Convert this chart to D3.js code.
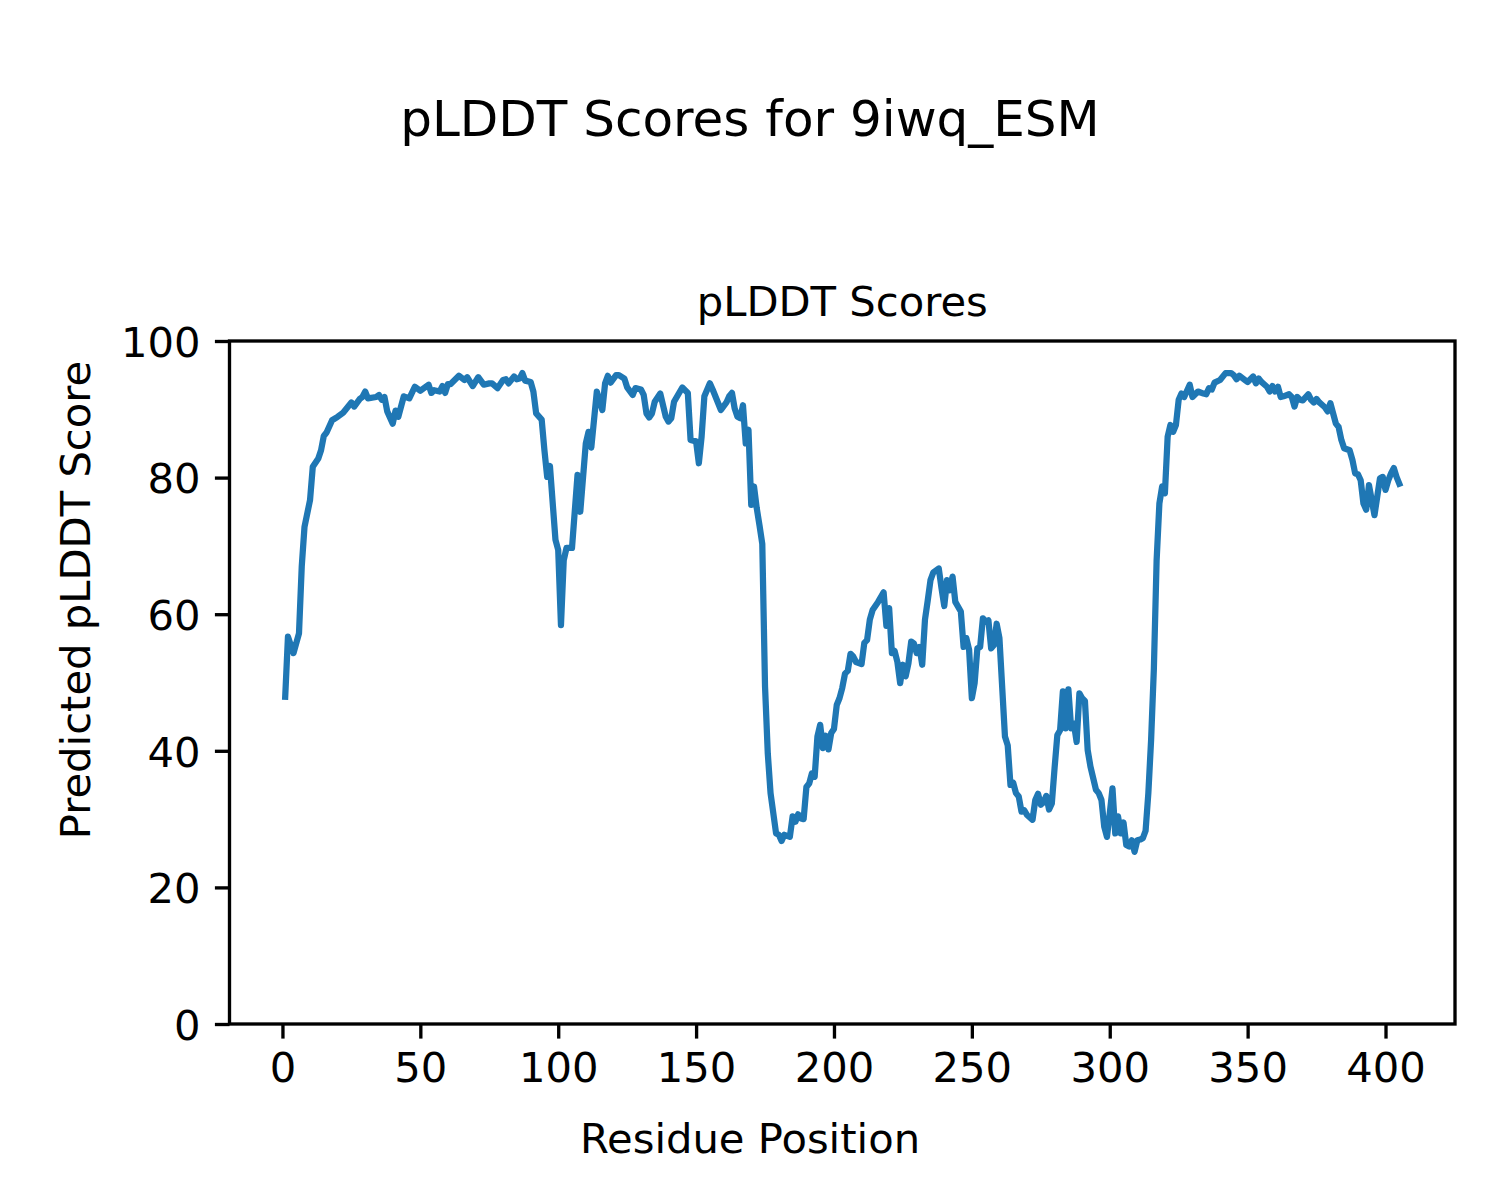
<!DOCTYPE html>
<html>
<head>
<meta charset="utf-8">
<script src="https://cdn.jsdelivr.net/npm/d3@7"></script>
<style>
  html, body { margin: 0; padding: 0; background: #ffffff; }
  svg { display: block; }
  text { font-family: "DejaVu Sans", sans-serif; fill: #000; }
</style>
</head>
<body>
<script>
// ---- data ----
const residues = [1,2,4,6,7,8,10,11,13,14,15,16,18,20,22,25,26,28,29,30,31,34,35,36,37,38,40,41,42,44,46,48,50,53,54,55,57,58,59,60,61,64,66,67,69,71,73,75,76,78,80,81,82,84,85,86,87,88,90,91,92,94,95,96,97,99,100,101,102,103,105,107,108,110,111,112,114,116,117,118,119,121,122,124,125,127,128,130,131,132,133,134,135,137,139,140,141,142,145,147,148,150,151,152,153,155,156,159,161,162,163,164,165,166,167,168,169,170,171,172,173,174,175,176,177,179,180,181,182,184,185,186,187,188,189,190,191,192,193,194,195,196,197,198,199,200,201,202,203,204,205,206,207,208,210,211,212,213,214,216,218,219,220,221,222,223,224,225,226,227,228,229,230,231,232,233,234,235,236,238,239,240,241,242,243,244,246,247,248,249,250,251,252,253,254,255,256,257,258,259,260,262,263,264,265,266,267,268,269,270,272,273,274,275,276,277,278,279,280,281,282,283,284,285,286,287,288,289,290,291,292,293,295,296,297,298,299,300,301,302,303,304,305,306,307,308,309,310,311,312,313,314,315,316,317,318,319,320,321,322,323,324,325,326,327,329,330,332,334,335,336,337,338,340,342,344,345,346,347,349,350,352,353,354,355,357,358,359,360,361,362,363,365,366,367,368,369,370,372,373,374,375,376,378,379,380,381,382,383,384,385,387,388,389,390,391,392,393,394,395,396,397,398,399,400,401,402,403,404,405];
const scores = [47.9,56.7,54.3,57.2,67.0,72.8,76.7,81.6,82.8,84.0,86.1,86.6,88.4,88.9,89.5,91.0,90.4,91.5,91.8,92.6,91.6,91.8,92.1,91.4,91.8,89.7,87.9,89.8,88.9,91.9,91.6,93.3,92.7,93.6,92.4,92.8,92.6,93.4,92.4,93.7,93.7,94.9,94.3,94.7,93.4,94.7,93.6,93.8,93.8,93.1,94.3,94.4,93.8,94.8,94.4,94.5,95.3,94.2,94.0,92.6,89.4,88.5,84.0,80.1,81.7,70.9,69.4,58.4,67.9,69.7,69.7,80.4,75.0,85.0,86.7,84.4,92.6,89.9,93.8,94.9,93.9,95.0,95.0,94.5,93.2,92.1,93.1,92.9,92.1,89.4,88.8,89.4,91.1,92.3,88.9,88.2,88.7,91.1,93.2,92.4,85.5,85.3,82.1,86.0,91.9,93.8,92.9,89.9,91.0,91.9,92.4,90.1,88.9,88.7,90.6,85.0,87.0,76.0,78.7,75.5,73.0,70.3,49.4,39.6,33.8,27.9,27.7,26.8,27.7,27.4,30.4,29.6,30.7,30.1,30.0,34.7,35.2,36.7,36.2,42.1,43.8,40.4,42.2,40.2,42.6,43.2,46.7,47.7,49.2,51.3,51.7,54.2,53.8,53.0,52.7,55.8,56.2,59.2,60.6,61.8,63.2,58.3,60.9,54.3,54.6,53.0,49.9,52.6,50.9,52.8,56.0,55.7,54.3,55.2,52.6,59.2,62.0,65.0,66.1,66.7,63.8,61.2,65.0,63.5,65.5,61.8,60.4,55.2,56.5,54.8,47.7,49.9,55.0,55.2,59.4,58.9,59.1,55.0,55.5,58.6,56.5,42.1,40.8,35.0,35.3,33.8,33.3,31.1,31.3,30.6,29.9,32.8,33.7,32.1,32.5,33.4,31.4,32.3,37.5,42.3,43.0,48.7,43.3,49.0,43.3,44.0,41.3,48.4,47.7,47.3,40.1,37.7,34.3,33.8,32.8,28.9,27.4,30.8,34.5,27.9,30.4,27.9,29.5,26.2,26.0,26.9,25.2,26.9,27.0,27.2,28.3,33.8,41.6,52.0,67.9,76.2,78.7,77.7,86.0,87.7,86.7,87.7,91.4,92.3,91.8,93.6,91.8,92.6,92.3,92.2,93.1,92.9,93.9,94.3,95.3,95.3,95.0,94.4,94.9,94.3,94.0,94.8,93.8,94.5,94.0,93.3,92.6,93.4,92.6,93.3,91.8,91.9,92.2,91.8,90.4,91.8,91.4,91.3,92.2,91.4,91.0,91.5,91.0,90.3,89.7,90.9,89.4,87.9,87.4,85.5,84.3,84.0,82.6,80.6,80.5,79.6,76.2,75.3,78.9,76.7,74.5,77.2,79.9,80.1,78.2,79.6,80.6,81.4,80.1,79.1];
const xTicks = [0, 50, 100, 150, 200, 250, 300, 350, 400];
const yTicks = [0, 20, 40, 60, 80, 100];
const figTitle = "pLDDT Scores for 9iwq_ESM";
const axTitle = "pLDDT Scores";
const xLabel = "Residue Position";
const yLabel = "Predicted pLDDT Score";

(function () {
  // ---- layout ----
  const W = 1500, H = 1200;
  const pLeft = 229.5, pRight = 1455, pTop = 341, pBottom = 1024;
  const lineColor = "#1f77b4";
  const tickFont = 41.7;
  const spineW = 3.33, tickLen = 14.6;

  const svg = d3.select("body").append("svg").attr("width", W).attr("height", H);
  svg.append("rect").attr("width", W).attr("height", H).attr("fill", "#fff");

  const x = d3.scaleLinear().domain([-19.2, 425.2]).range([pLeft, pRight]);
  const y = d3.scaleLinear().domain([0, 100]).range([pBottom, pTop]);

  const n = Math.min(residues.length, scores.length);
  const pts = d3.range(n).map(i => [residues[i], scores[i]]);

  svg.append("clipPath").attr("id", "clip").append("rect")
    .attr("x", pLeft).attr("y", pTop).attr("width", pRight - pLeft).attr("height", pBottom - pTop);

  const line = d3.line().x(d => x(d[0])).y(d => y(d[1]));
  svg.append("path").datum(pts)
    .attr("clip-path", "url(#clip)")
    .attr("d", line)
    .attr("fill", "none")
    .attr("stroke", lineColor)
    .attr("stroke-width", 6.25)
    .attr("stroke-linejoin", "round")
    .attr("stroke-linecap", "square");

  svg.append("rect").attr("x", pLeft).attr("y", pTop)
    .attr("width", pRight - pLeft).attr("height", pBottom - pTop)
    .attr("fill", "none").attr("stroke", "#000").attr("stroke-width", spineW);

  const xAxis = d3.axisBottom(x).tickValues(xTicks).tickSize(tickLen).tickPadding(14.6).tickFormat(d3.format("d"));
  const gx = svg.append("g").attr("transform", `translate(0,${pBottom})`).call(xAxis);
  gx.select(".domain").remove();
  gx.selectAll(".tick line").attr("stroke", "#000").attr("stroke-width", spineW);
  gx.selectAll(".tick text").attr("font-size", tickFont).attr("font-family", "DejaVu Sans")
    .attr("fill", "#000").attr("dy", null).attr("y", 58);

  const yAxis = d3.axisLeft(y).tickValues(yTicks).tickSize(tickLen).tickPadding(14.6).tickFormat(d3.format("d"));
  const gy = svg.append("g").attr("transform", `translate(${pLeft},0)`).call(yAxis);
  gy.select(".domain").remove();
  gy.selectAll(".tick line").attr("stroke", "#000").attr("stroke-width", spineW);
  gy.selectAll(".tick text").attr("font-size", tickFont).attr("font-family", "DejaVu Sans")
    .attr("fill", "#000").attr("dy", null).attr("y", 15.2).attr("x", -29);

  svg.append("text").attr("x", 750).attr("y", 136).attr("text-anchor", "middle")
    .attr("font-size", 50).text(figTitle);
  svg.append("text").attr("x", (pLeft + pRight) / 2).attr("y", 316).attr("text-anchor", "middle")
    .attr("font-size", tickFont).text(axTitle);
  svg.append("text").attr("x", 750).attr("y", 1153).attr("text-anchor", "middle")
    .attr("font-size", tickFont).text(xLabel);
  svg.append("text").attr("transform", "translate(90,600) rotate(-90)").attr("text-anchor", "middle")
    .attr("font-size", tickFont).text(yLabel);

  if (residues.length !== scores.length) {
    setTimeout(() => { throw new Error("length mismatch " + residues.length + " vs " + scores.length); }, 0);
  }
})();
</script>
</body>
</html>
